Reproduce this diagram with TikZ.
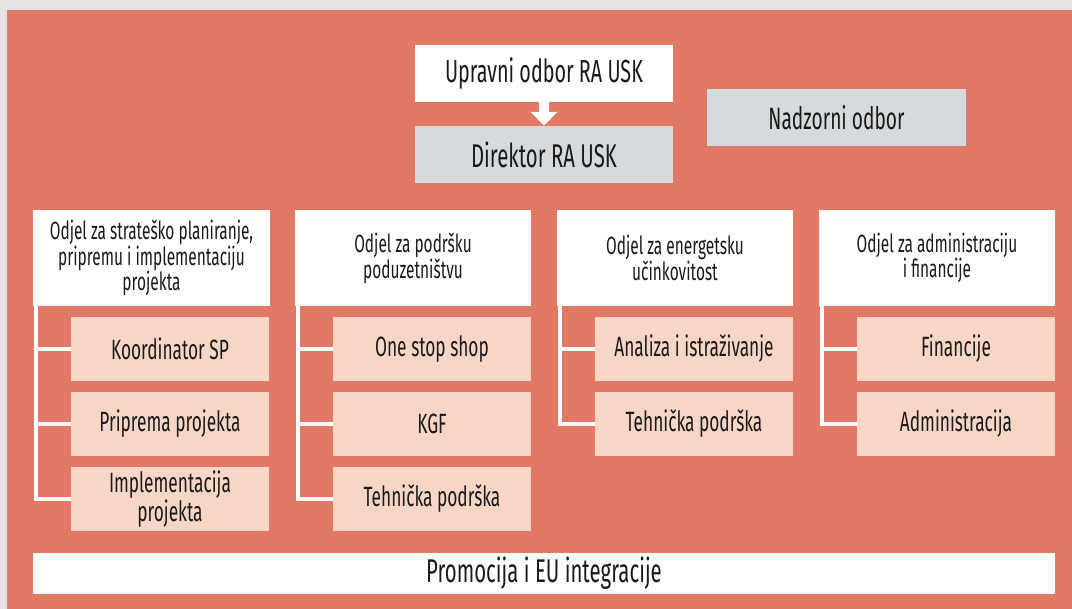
\documentclass[tikz,border=0pt]{standalone}
\usepackage{fontspec}
\setmainfont{Fira Sans}[FakeStretch=0.62]
\usetikzlibrary{arrows.meta}
\definecolor{bgray}{HTML}{E1E3E5}
\definecolor{salmon}{HTML}{E27866}
\definecolor{peach}{HTML}{F7D6C6}
\definecolor{boxgray}{HTML}{D7DADC}
\definecolor{ink}{HTML}{1A1A1A}
\tikzset{
  box/.style={inner sep=0pt, text=ink, align=center, font=\fontsize{32}{32}\selectfont},
  topbox/.style={box, fill=white, minimum width=258bp, minimum height=57bp},
  graybox/.style={box, fill=boxgray, minimum width=258bp, minimum height=57bp},
  headbox/.style={box, fill=white, minimum width=237bp, minimum height=96bp, font=\fontsize{25}{23}\selectfont},
  subbox/.style={box, fill=peach, minimum width=198bp, minimum height=64bp, font=\fontsize{28}{24}\selectfont},
  conn/.style={draw=white, line width=4bp},
}
\begin{document}
\begin{tikzpicture}[x=1bp, y=-1bp]
\useasboundingbox (0,0) rectangle (1072,609);
\fill[bgray] (0,0) rectangle (1072,609);
\fill[salmon] (7,10) rectangle (1072,609);

\node[topbox] (up) at (544,73.5) {Upravni odbor RA USK};
\node[graybox, font=\fontsize{33}{33}\selectfont] (dir) at (544,154.5) {Direktor RA USK};
\node[graybox, minimum width=259bp, font=\fontsize{31}{31}\selectfont] (nad) at (836.5,117.5) {Nadzorni odbor};

\draw[white, line width=10bp, -{Triangle[width=26bp, length=14bp]}] (up.south) -- (dir.north);

\node[headbox] (h1) at (151.5,258) {Odjel za strateško planiranje,\\pripremu i implementaciju\\projekta};
\node[headbox, minimum width=236bp] (h2) at (413,258) {Odjel za podršku\\poduzetništvu};
\node[headbox, minimum width=236bp] (h3) at (675,258) {Odjel za energetsku\\učinkovitost};
\node[headbox, minimum width=236bp] (h4) at (937,258) {Odjel za administraciju\\i financije};

\node[subbox] (s11) at (170,349) {Koordinator SP};
\node[subbox] (s12) at (170,424) {Priprema projekta};
\node[subbox] (s13) at (170,499) {Implementacija\\projekta};

\node[subbox] (s21) at (432,349) {One stop shop};
\node[subbox] (s22) at (432,424) {KGF};
\node[subbox] (s23) at (432,499) {Tehnička podrška};

\node[subbox] (s31) at (694,349) {Analiza i istraživanje};
\node[subbox] (s32) at (694,424) {Tehnička podrška};

\node[subbox] (s41) at (956,349) {Financije};
\node[subbox] (s42) at (956,424) {Administracija};

\node[box, fill=white, minimum width=1022bp, minimum height=41bp, font=\fontsize{33}{33}\selectfont] (pr) at (544,573.5) {Promocija i EU integracije};

\foreach \h/\s in {h1/s11,h1/s12,h1/s13,h2/s21,h2/s22,h2/s23,h3/s31,h3/s32,h4/s41,h4/s42}{
  \draw[conn] ([xshift=3bp]\h.south west) |- (\s.west);
}
\end{tikzpicture}
\end{document}
